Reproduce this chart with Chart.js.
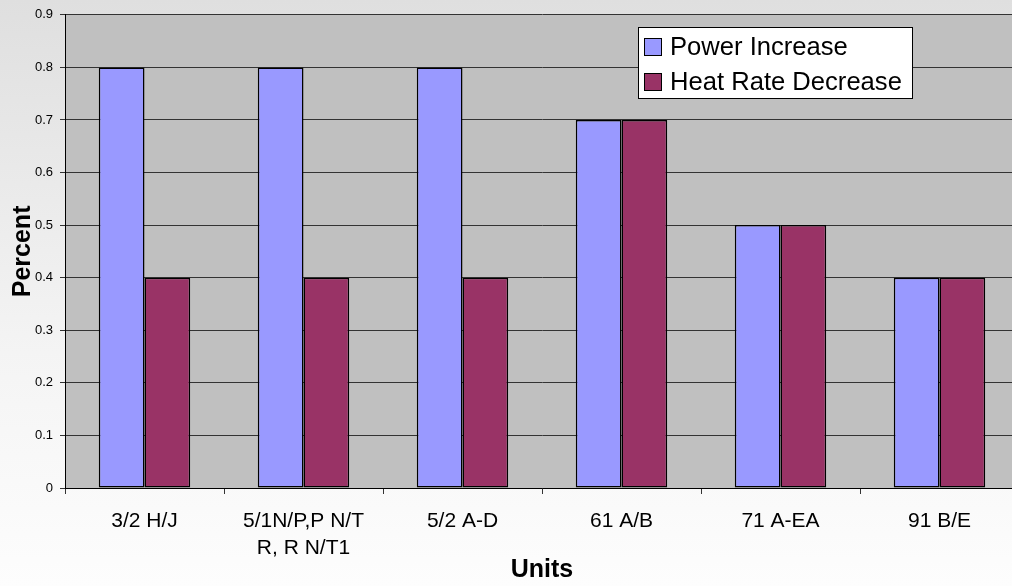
<!DOCTYPE html>
<html>
<head>
<meta charset="utf-8">
<script src="https://cdn.jsdelivr.net/npm/chart.js@4"></script>
<style>
    html, body { margin: 0; padding: 0; overflow: hidden; }
    body { width: 1012px; height: 586px; background: linear-gradient(to bottom, #dfdfdf 0%, #f4f4f4 60%, #fdfdfd 100%); }
    #clip { width: 1012px; height: 586px; overflow: hidden; position: relative; }
    /* the plot area runs a few pixels past the right edge, as in the source */
    #wrap { width: 1019px; height: 586px; position: absolute; left: 0; top: 0; }
</style>
</head>
<body>
<div id="clip"><div id="wrap"><canvas id="unitChart"></canvas></div></div>
<script>
const units = ['3/2 H/J', ['5/1N/P,P N/T', 'R, R N/T1'], '5/2 A-D', '61 A/B', '71 A-EA', '91 B/E'];
const powerIncrease = [0.8, 0.8, 0.8, 0.7, 0.5, 0.4];
const heatRateDecrease = [0.4, 0.4, 0.4, 0.7, 0.5, 0.4];
const yMin = 0, yMax = 0.9, yStep = 0.1;

const FONT = '"Liberation Sans", Arial, sans-serif';

// gray plot area like the old Excel charts
const plotBg = {
    id: 'plotBg',
    beforeDraw(chart) {
        const { ctx, chartArea: a } = chart;
        ctx.save();
        ctx.fillStyle = '#c0c0c0';
        ctx.fillRect(a.left, a.top, a.right - a.left, a.bottom - a.top);
        ctx.restore();
    }
};

// legend box sits inside the plot area
const boxLegend = {
    id: 'boxLegend',
    afterDraw(chart) {
        const { ctx } = chart;
        const x = 638, y = 27, w = 275, h = 72;
        ctx.save();
        ctx.fillStyle = '#ffffff';
        ctx.fillRect(x, y, w, h);
        ctx.strokeStyle = '#000';
        ctx.lineWidth = 1;
        ctx.strokeRect(x + 0.5, y + 0.5, w - 1, h - 1);
        ctx.font = '25.6px ' + FONT;
        ctx.textBaseline = 'middle';
        chart.data.datasets.forEach((ds, i) => {
            const cy = y + 20 + i * 35;
            ctx.fillStyle = ds.backgroundColor;
            ctx.fillRect(644, cy - 9, 18, 18);
            ctx.strokeRect(644.5, cy - 8.5, 17, 17);
            ctx.fillStyle = '#000';
            ctx.fillText(ds.label, 670, cy + 1);
        });
        ctx.restore();
    }
};

new Chart(document.getElementById('unitChart'), {
    type: 'bar',
    data: {
        labels: units,
        datasets: [
            { label: 'Power Increase', data: powerIncrease, backgroundColor: '#9999ff', borderColor: '#000', borderWidth: 1.5, borderSkipped: false },
            { label: 'Heat Rate Decrease', data: heatRateDecrease, backgroundColor: '#993366', borderColor: '#000', borderWidth: 1.5, borderSkipped: false }
        ]
    },
    options: {
        responsive: true,
        maintainAspectRatio: false,
        animation: false,
        layout: { padding: { top: 14, right: 0, bottom: 0, left: 0 } },
        datasets: { bar: { categoryPercentage: 0.575, barPercentage: 1 } },
        plugins: { legend: { display: false }, tooltip: { enabled: false } },
        scales: {
            x: {
                afterFit(scale) { scale.height = 98; },
                grid: { offset: true, drawOnChartArea: false, drawTicks: true, tickLength: 6, color: '#333' },
                border: { color: '#000' },
                ticks: { color: '#000', padding: 14, maxRotation: 0, font: { family: FONT, size: 21, lineHeight: 1.27 } },
                title: { display: true, text: 'Units', color: '#000', padding: { top: 0, bottom: 1 }, font: { family: FONT, size: 25, weight: 'bold', lineHeight: 1.2 } }
            },
            y: {
                min: yMin,
                max: yMax,
                afterFit(scale) { scale.width = 65; },
                grid: { color: '#333', tickLength: 5 },
                border: { color: '#000' },
                ticks: {
                    stepSize: yStep,
                    color: '#000',
                    padding: 7,
                    font: { family: FONT, size: 13 },
                    callback: v => String(Number(v.toFixed(1)))
                },
                title: { display: true, text: 'Percent', color: '#000', padding: { top: 8, bottom: 0 }, font: { family: FONT, size: 25, weight: 'bold', lineHeight: 1.2 } }
            }
        }
    },
    plugins: [plotBg, boxLegend]
});
</script>
</body>
</html>
